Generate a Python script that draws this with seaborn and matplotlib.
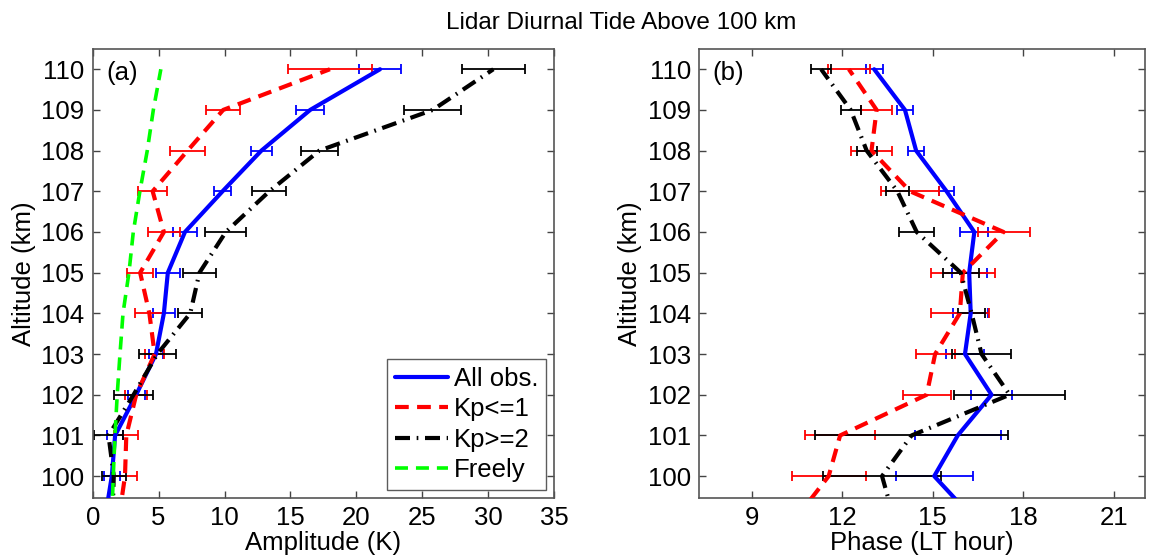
import numpy as np
import pandas as pd
import matplotlib
matplotlib.use("Agg")
import matplotlib.pyplot as plt
import seaborn as sns

sns.set_theme(style="white")
plt.rcParams['font.family'] = ['Liberation Sans', 'DejaVu Sans']
plt.rcParams['text.color'] = 'black'
plt.rcParams['axes.labelcolor'] = 'black'

# Altitudes (km); 99 km point only continues the lines below the axis edge
alt = [99, 100, 101, 102, 103, 104, 105, 106, 107, 108, 109, 110]
alt_err = [100, 101, 102, 103, 104, 105, 106, 107, 108, 109, 110]

# Amplitude (K)
amp_all = [0.95, 1.45, 1.7, 3.3, 4.8, 5.4, 5.7, 7.0, 9.85, 12.8, 16.5, 21.8]
amp_all_err = [0.6, 0.6, 0.65, 0.5, 0.85, 0.9, 0.9, 0.67, 0.8, 1.07, 1.6]
amp_kp1 = [2.0, 2.45, 2.55, 3.3, 4.7, 4.3, 3.6, 5.4, 4.55, 7.2, 9.9, 18.0]
amp_kp1_err = [0.9, 0.9, 0.85, 0.7, 1.1, 1.0, 1.2, 1.1, 1.3, 1.3, 3.2]
amp_kp2 = [1.5, 1.6, 1.2, 3.1, 4.9, 7.4, 8.1, 10.1, 13.4, 17.2, 25.8, 30.4]
amp_kp2_err = [0.9, 1.1, 1.45, 1.4, 0.9, 1.25, 1.55, 1.3, 1.4, 2.15, 2.4]
amp_free = [1.45, 1.56, 1.69, 1.86, 2.07, 2.3, 2.75, 3.08, 3.58, 4.14, 4.6, 5.17]

# Phase (LT hour)
ph_all = [16.3, 15.05, 15.83, 16.95, 16.07, 16.26, 16.21, 16.38, 15.46, 14.45, 14.08, 13.06]
ph_all_err = [1.27, 1.43, 0.67, 0.63, 0.58, 0.58, 0.47, 0.25, 0.26, 0.25, 0.28]
ph_kp1 = [10.5, 11.55, 11.93, 14.8, 15.08, 15.9, 16.0, 17.35, 14.25, 12.97, 13.14, 12.22]
ph_kp1_err = [1.23, 1.17, 0.8, 0.65, 0.97, 1.05, 0.86, 0.95, 0.68, 0.52, 0.7]
ph_kp2 = [13.7, 13.32, 14.3, 17.55, 16.62, 16.29, 15.93, 14.47, 13.83, 12.81, 12.28, 11.3]
ph_kp2_err = [1.95, 3.2, 1.83, 0.98, 0.44, 0.59, 0.58, 0.37, 0.33, 0.33, 0.32]

labels = ["All obs.", "Kp<=1", "Kp>=2", "Freely"]
colors = ["#0000ff", "#ff0000", "#000000", "#00ff00"]
title = "Lidar Diurnal Tide Above 100 km"

fig = plt.figure(figsize=(11.5, 5.58), dpi=100)
ax1 = fig.add_axes([92.7 / 1150, 1 - 497.7 / 558, (554 - 92.7) / 1150, (497.7 - 49.3) / 558])
ax2 = fig.add_axes([699.3 / 1150, 1 - 497.7 / 558, (1145 - 699.3) / 1150, (497.7 - 49.3) / 558])

FS = 18.5
ebkw = dict(fmt='none', elinewidth=1.3, capsize=3.5, capthick=1.3, zorder=2)
styles = [dict(linestyle='-', lw=3.0),
          dict(linestyle=(0, (3.3, 2.0)), lw=3.0),
          dict(linestyle=(0, (3.6, 1.6, 0.4, 1.6)), lw=3.0),
          dict(linestyle=(0, (3.6, 2.2)), lw=2.6)]


def draw(ax, series, errs, nlines):
    for i in range(nlines):
        x = series[i]
        if i < len(errs):
            ax.errorbar(x[1:], alt_err, xerr=errs[i], color=colors[i], **ebkw)
    for i in range(nlines):
        df = pd.DataFrame({"x": series[i], "alt": alt})
        sns.lineplot(data=df, x="x", y="alt", sort=False, estimator=None,
                     color=colors[i], ax=ax, label=labels[i], zorder=3,
                     dashes=False, **styles[i])


draw(ax1, [amp_all, amp_kp1, amp_kp2, amp_free],
     [amp_all_err, amp_kp1_err, amp_kp2_err], 4)
draw(ax2, [ph_all, ph_kp1, ph_kp2], [ph_all_err, ph_kp1_err, ph_kp2_err], 3)

for ax in (ax1, ax2):
    ax.set_ylim(99.47, 110.49)
    ax.set_yticks(range(100, 111))
    ax.tick_params(direction='in', bottom=True, left=True, top=True, right=True,
                   length=5, width=1, labelsize=FS, colors='#444444', pad=6)
    ax.tick_params(labelcolor='black')
    for s in ax.spines.values():
        s.set_color('#555555')
        s.set_linewidth(1.2)
    ax.set_ylabel("Altitude (km)", fontsize=FS, labelpad=4)

ax1.set_xlim(0, 35)
ax1.set_xticks(range(0, 36, 5))
ax1.set_xlabel("Amplitude (K)", fontsize=FS, labelpad=1)
ax2.set_xlim(7.26, 22.04)
ax2.set_xticks([9, 12, 15, 18, 21])
ax2.set_xlabel("Phase (LT hour)", fontsize=FS, labelpad=1)

ax1.text(0.03, 0.975, "(a)", transform=ax1.transAxes, fontsize=FS, va='top', ha='left')
ax2.text(0.03, 0.975, "(b)", transform=ax2.transAxes, fontsize=FS, va='top', ha='left')

ax2.get_legend().remove()
h, l = ax1.get_legend_handles_labels()
leg = ax1.legend(h, l, loc='lower right', fontsize=FS, frameon=True, fancybox=False,
                 handlelength=2.05, handletextpad=0.25, borderpad=0.3, labelspacing=0.25,
                 borderaxespad=0.3, edgecolor='#333333')
leg.get_frame().set_linewidth(1.0)

fig.suptitle(title, fontsize=FS - 1.0, x=0.54, y=0.978, color='black')

fig.savefig("out.png", dpi=100)
